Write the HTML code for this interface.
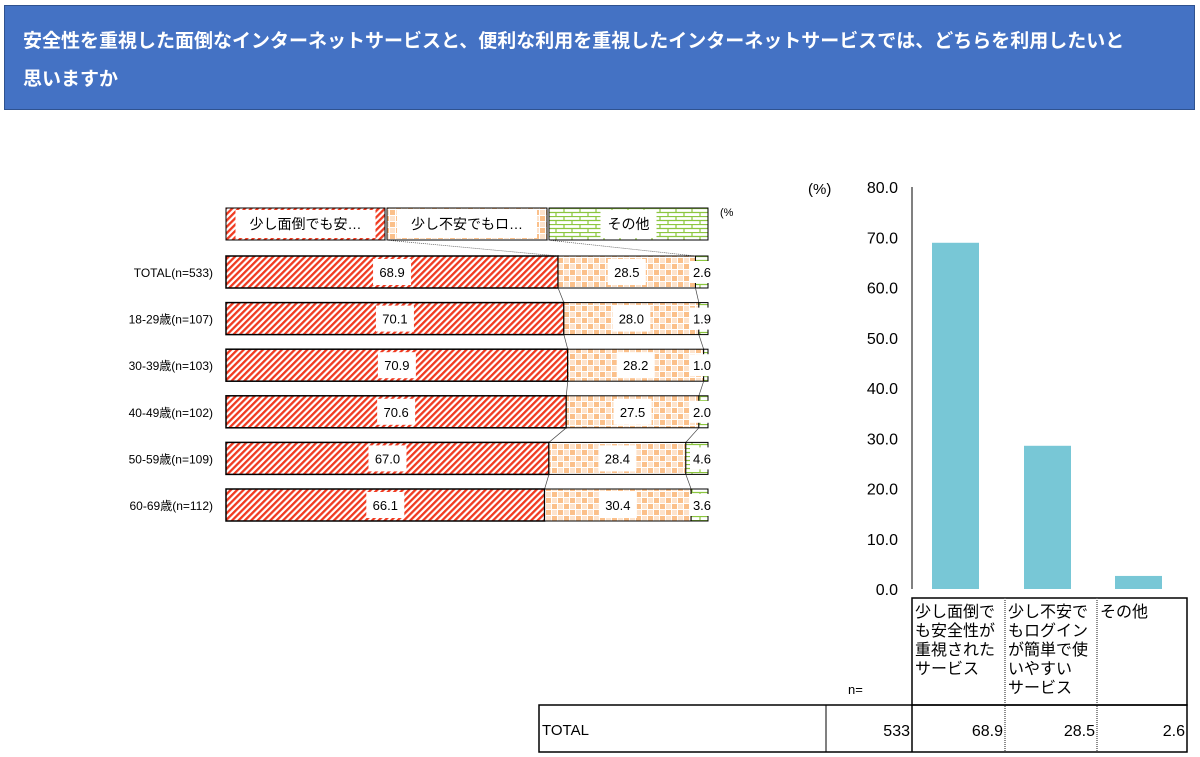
<!DOCTYPE html>
<html><head><meta charset="utf-8">
<style>
body{margin:0;width:1200px;height:757px;background:#fff;overflow:hidden;font-family:"Liberation Sans","Noto Sans CJK JP",sans-serif;}
#title{position:absolute;left:4px;top:5px;width:1171px;height:78px;background:#4472C4;border:1px solid #2F528F;color:#fff;font-weight:bold;font-size:19px;line-height:38px;padding:17px 0 8px 18px;}
svg{position:absolute;left:0;top:0;}
</style></head><body>
<div id="title">安全性を重視した面倒なインターネットサービスと、便利な利用を重視したインターネットサービスでは、どちらを利用したいと<br>思いますか</div>
<svg id="c" width="1200" height="757" style="font-family:'Liberation Sans','Noto Sans CJK JP',sans-serif">
<defs>
<pattern id="pRed" width="4.5" height="4.5" patternUnits="userSpaceOnUse" patternTransform="rotate(45)"><rect width="4.5" height="4.5" fill="#fff"/><rect width="2.3" height="4.5" fill="#F03A20"/></pattern>
<pattern id="pOr" width="12" height="12" patternUnits="userSpaceOnUse"><rect width="12" height="12" fill="#fff"/><rect x="0" y="0" width="5" height="5" fill="#FBC08A"/><rect x="6" y="6" width="5" height="5" fill="#FBC08A"/><rect x="6" y="0" width="5" height="5" fill="#FDE3CC"/><rect x="0" y="6" width="5" height="5" fill="#FDE3CC"/></pattern>
<pattern id="pGr" width="16" height="8" patternUnits="userSpaceOnUse"><rect width="16" height="8" fill="#fff"/><path d="M0 0.5H16M0 4.5H16M4 0V4M12 4V8" stroke="#8CC63F" stroke-width="1.2"/></pattern>
</defs>
</svg>
<script>
const rowLabels=["TOTAL(n=533)","18-29歳(n=107)","30-39歳(n=103)","40-49歳(n=102)","50-59歳(n=109)","60-69歳(n=112)"];
const safeVals=[68.9,70.1,70.9,70.6,67.0,66.1];
const easyVals=[28.5,28.0,28.2,27.5,28.4,30.4];
const otherVals=[2.6,1.9,1.0,2.0,4.6,3.6];
const legendLabels=["少し面倒でも安…","少し不安でもロ…","その他"];
const colCats=["少し面倒でも安全性が重視されたサービス","少し不安でもログインが簡単で使いやすいサービス","その他"];
const colVals=[68.9,28.5,2.6];
const yTicks=[0,10,20,30,40,50,60,70,80];
const NS="http://www.w3.org/2000/svg";
const svg=document.getElementById('c');
function mk(t,a,p){const e=document.createElementNS(NS,t);for(const k in a)e.setAttribute(k,a[k]);(p||svg).appendChild(e);return e;}
function txt(x,y,s,a){const e=mk('text',Object.assign({x:x,y:y,'font-size':13,fill:'#000'},a||{}));e.textContent=s;return e;}
const X0=226,W=482;const sx=v=>X0+v/100*W;
const rowY=i=>256+i*46.6;const BH=32;
const fills=["url(#pRed)","url(#pOr)","url(#pGr)"];
const lx=[[226,385],[387,547],[549,708]];
legendLabels.forEach((l,i)=>{
  const r=mk('rect',{x:lx[i][0],y:208,width:lx[i][1]-lx[i][0],height:32,fill:fills[i],stroke:'#000','stroke-width':1});
  
  const cx=(lx[i][0]+lx[i][1])/2;const w=i==2?56:140;
  mk('rect',{x:cx-w/2,y:210,width:w,height:28,fill:'#fff'});
  const t=txt(cx,229,l,{'text-anchor':'middle','font-size':14});
  
});
txt(720,216,"(%",{'font-size':11});
rowLabels.forEach((lab,i)=>{
  const y=rowY(i);const vals=[safeVals[i],easyVals[i],otherVals[i]];
  const t=txt(213,y+21,lab,{'text-anchor':'end','font-size':12});
  
  let c=0;
  vals.forEach((v,k)=>{
    let a=sx(c),b=k==2?X0+W:sx(c+v);c+=v;
    const r=mk('rect',{x:a,y:y,width:Math.max(b-a,0.5),height:BH,fill:fills[k],stroke:'#000','stroke-width':k==0?1.5:1});
    
    const s=v.toFixed(1);
    let cx=k==2?X0+W-6:(a+b)/2;
    if(k<2){mk('rect',{x:cx-19,y:y+3,width:38,height:BH-6,fill:'#fff'});}
    else mk('rect',{x:cx-12,y:y+5,width:24,height:BH-10,fill:'#fff'});
    const tt=txt(cx,y+21,s,{'text-anchor':'middle','font-size':13});
    
  });
  if(i<rowLabels.length-1){
    const c1=sx(safeVals[i]),c2=sx(safeVals[i+1]);
    const d1=sx(safeVals[i]+easyVals[i]),d2=sx(safeVals[i+1]+easyVals[i+1]);
    mk('line',{x1:c1,y1:y+BH,x2:c2,y2:rowY(i+1),stroke:'#444','stroke-width':0.7});
    mk('line',{x1:Math.min(d1,705),y1:y+BH,x2:Math.min(d2,705),y2:rowY(i+1),stroke:'#444','stroke-width':0.7});
  }
});
mk('line',{x1:385,y1:240,x2:sx(safeVals[0]),y2:256,stroke:'#444','stroke-width':0.7,'stroke-dasharray':'1,1'});
mk('line',{x1:547,y1:240,x2:sx(safeVals[0]+easyVals[0]),y2:256,stroke:'#444','stroke-width':0.7,'stroke-dasharray':'1,1'});
const Y0=589,PU=(589-187)/80;const sy=v=>Y0-v*PU;
const axis=mk('line',{x1:912,y1:187,x2:912,y2:589,stroke:'#000','stroke-width':1});

yTicks.forEach(t=>{const e=txt(898,sy(t)+6,t.toFixed(1),{'text-anchor':'end','font-size':16});
  });
const u=txt(808,194,"(%)",{'font-size':15});
const colX=[955,1047,1138];
colVals.forEach((v,i)=>{
  const r=mk('rect',{x:colX[i]-23,y:sy(v),width:47,height:Y0-sy(v),fill:'#78C7D6'});
  
});
const cols=[912,1005,1097,1187];
const hdr=[["少し面倒で","も安全性が","重視された","サービス"],["少し不安で","もログイン","が簡単で使","いやすい","サービス"],["その他"]];
mk('rect',{x:912,y:598,width:275,height:107,fill:'none',stroke:'#000','stroke-width':1.5});
mk('line',{x1:1005,y1:598,x2:1005,y2:752,stroke:'#666','stroke-width':1.5,'stroke-dasharray':'1,1'});
mk('line',{x1:1097,y1:598,x2:1097,y2:752,stroke:'#666','stroke-width':1.5,'stroke-dasharray':'1,1'});
hdr.forEach((lines,i)=>lines.forEach((l,j)=>{const e=txt(cols[i]+3,617+j*19,l,{'font-size':16});
  }));
txt(848,694,"n=",{'font-size':13});
mk('rect',{x:539,y:705,width:648,height:47,fill:'none',stroke:'#000','stroke-width':1.5});
mk('line',{x1:826,y1:705,x2:826,y2:752,stroke:'#000','stroke-width':1});
mk('line',{x1:912,y1:705,x2:912,y2:752,stroke:'#000','stroke-width':1.5});
txt(542,735,"TOTAL",{'font-size':15});
txt(910,736,"533",{'font-size':16,'text-anchor':'end'});
colVals.forEach((v,i)=>{const e=txt(cols[i+1]-2,736,v.toFixed(1),{'font-size':16,'text-anchor':'end'});
  });
</script>
</body></html>
